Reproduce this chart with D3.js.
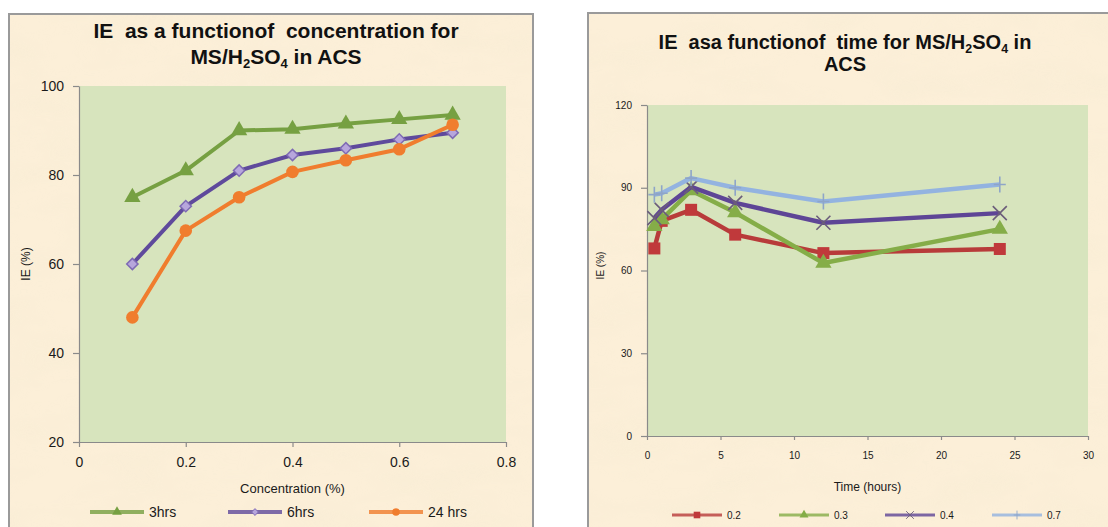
<!DOCTYPE html>
<html>
<head>
<meta charset="utf-8">
<script src="https://cdn.jsdelivr.net/npm/d3@7/dist/d3.min.js"></script>
<style>
  html, body { margin: 0; padding: 0; background: #ffffff; }
  svg { display: block; }
  text { font-family: "Liberation Sans", Arial, sans-serif; }
</style>
</head>
<body>
<svg id="chart" width="1108" height="527"></svg>
<script>
// ---- Concentration panel data ----
const concentrations = [0.1, 0.2, 0.3, 0.4, 0.5, 0.6, 0.7];
const ie3hrs  = [75, 81, 90, 90.3, 91.5, 92.5, 93.5];
const ie6hrs  = [60, 73, 81, 84.5, 86, 88, 89.5];
const ie24hrs = [48, 67.5, 75, 80.7, 83.3, 85.8, 91.3];
const concTicks = [0, 0.2, 0.4, 0.6, 0.8];
const concIETicks = [20, 40, 60, 80, 100];
const concSeriesNames = ["3hrs", "6hrs", "24 hrs"];

// ---- Time panel data ----
const times = [0.5, 1, 3, 6, 12, 24];
const ie02 = [68, 78, 82, 73, 66.3, 67.8];
const ie03 = [76, 78.5, 89, 81, 62.7, 75];
const ie04 = [79, 82, 90.3, 84.5, 77.3, 80.8];
const ie07 = [87.5, 88, 93.5, 90, 85, 91.2];
const timeTicks = [0, 5, 10, 15, 20, 25, 30];
const timeIETicks = [0, 30, 60, 90, 120];
const timeSeriesNames = ["0.2", "0.3", "0.4", "0.7"];

const svg = d3.select("#chart");
const defs = svg.append("defs");

// paper-like mottled panel background
const f = defs.append("filter").attr("id", "paper")
  .attr("x", 0).attr("y", 0).attr("width", "100%").attr("height", "100%");
f.append("feTurbulence").attr("type", "fractalNoise")
  .attr("baseFrequency", "0.012 0.03").attr("numOctaves", 3).attr("seed", 7);
f.append("feColorMatrix").attr("type", "matrix")
  .attr("values", "0 0 0 0 0.93  0 0 0 0 0.84  0 0 0 0 0.66  0 0 0 1.4 -0.5");

function panel(x, y, w, h) {
  const g = svg.append("g");
  g.append("rect").attr("x", x).attr("y", y).attr("width", w).attr("height", h)
    .attr("fill", "#fcefd8");
  g.append("rect").attr("x", x).attr("y", y).attr("width", w).attr("height", h)
    .attr("filter", "url(#paper)").attr("opacity", 0.7);
  g.append("rect").attr("x", x).attr("y", y).attr("width", w).attr("height", h)
    .attr("fill", "none").attr("stroke", "#9a9a9a").attr("stroke-width", 2);
  return g;
}

function title(g, cx, lines, size) {
  lines.forEach(parts => {
    const t = g.append("text").attr("x", cx).attr("y", parts.y)
      .attr("text-anchor", "middle").attr("font-weight", "bold")
      .attr("font-size", size).attr("fill", "#111")
      .attr("xml:space", "preserve").style("white-space", "pre");
    parts.segs.forEach(s => {
      if (s.sub) {
        t.append("tspan").text(s.t).attr("font-size", size * 0.62).attr("dy", 4);
      } else {
        t.append("tspan").text(s.t).attr("dy", s.after ? -4 : 0);
      }
    });
  });
}

function marker(g, type, x, y, c) {
  const fill = c.fill, stroke = c.mstroke || c.fill;
  if (type === "triangle") {
    g.append("path").attr("d", d3.symbol(d3.symbolTriangle, 115)())
      .attr("transform", `translate(${x},${y})`).attr("fill", fill);
  } else if (type === "diamond") {
    g.append("path").attr("d", d3.symbol(d3.symbolSquare, 64)())
      .attr("transform", `translate(${x},${y}) rotate(45)`)
      .attr("fill", fill).attr("stroke", stroke).attr("stroke-width", 1.5);
  } else if (type === "circle") {
    g.append("circle").attr("cx", x).attr("cy", y).attr("r", 6.3).attr("fill", fill);
  } else if (type === "square") {
    g.append("rect").attr("x", x - 6).attr("y", y - 6).attr("width", 12).attr("height", 12)
      .attr("fill", fill);
  } else if (type === "x") {
    g.append("path").attr("d", `M${x-7},${y-7}L${x+7},${y+7}M${x-7},${y+7}L${x+7},${y-7}`)
      .attr("stroke", stroke).attr("stroke-width", 1.6);
  } else if (type === "plus") {
    g.append("path").attr("d", `M${x},${y-8}L${x},${y+8}M${x-6},${y}L${x+6},${y}`)
      .attr("stroke", stroke).attr("stroke-width", 1.6);
  }
}

function styleAxis(a, size) {
  a.select(".domain").attr("stroke", "#8a8a8a").attr("stroke-width", 1.2);
  a.selectAll(".tick line").attr("stroke", "#8a8a8a").attr("stroke-width", 1.2);
  a.selectAll(".tick text").attr("fill", "#1a1a1a").attr("font-size", size)
    .attr("font-family", "'Liberation Sans', Arial, sans-serif");
}

// ================= Concentration panel =================
{
  const g = panel(9, 14, 524, 530);
  const x = d3.scaleLinear([0, 0.8], [79, 506]);
  const y = d3.scaleLinear([20, 100], [442, 86]);

  g.append("rect").attr("x", x(0)).attr("y", y(100))
    .attr("width", x(0.8) - x(0)).attr("height", y(20) - y(100)).attr("fill", "#d7e4bd");

  title(g, 276, [
    { y: 38, segs: [{ t: "IE  as a functionof  concentration for" }] },
    { y: 64, segs: [{ t: "MS/H" }, { t: "2", sub: true }, { t: "SO", after: true }, { t: "4", sub: true }, { t: " in ACS", after: true }] }
  ], 21);

  const ax = g.append("g").attr("transform", `translate(0,${y(20)})`)
    .call(d3.axisBottom(x).tickValues(concTicks).tickFormat(d3.format("~g"))
      .tickSizeInner(5).tickSizeOuter(0).tickPadding(10));
  styleAxis(ax, 14);
  const ay = g.append("g").attr("transform", `translate(${x(0)},0)`)
    .call(d3.axisLeft(y).tickValues(concIETicks).tickSizeInner(6).tickSizeOuter(0).tickPadding(9));
  styleAxis(ay, 14);

  g.append("text").attr("x", x(0.4)).attr("y", 493).attr("text-anchor", "middle")
    .attr("font-size", 13).attr("fill", "#1a1a1a").text("Concentration (%)");
  g.append("text").attr("transform", `translate(30,${y(60)}) rotate(-90)`)
    .attr("text-anchor", "middle").attr("font-size", 12).attr("fill", "#1a1a1a").text("IE (%)");

  const series = [
    { name: concSeriesNames[0], v: ie3hrs, line: "#76a042", fill: "#76a042", m: "triangle" },
    { name: concSeriesNames[1], v: ie6hrs, line: "#5f4a9c", fill: "#b7a6dc", mstroke: "#7e6ab4", m: "diamond" },
    { name: concSeriesNames[2], v: ie24hrs, line: "#f07d2e", fill: "#f07d2e", m: "circle" }
  ];
  const line = d3.line().x(d => x(d[0])).y(d => y(d[1]));
  series.forEach(s => {
    const pts = concentrations.map((c, i) => [c, s.v[i]]);
    g.append("path").attr("d", line(pts)).attr("fill", "none")
      .attr("stroke", s.line).attr("stroke-width", 4).attr("stroke-linejoin", "round");
    pts.forEach(p => marker(g, s.m, x(p[0]), y(p[1]), s));
  });

  // legend
  const lx = [90, 228, 369];
  series.forEach((s, i) => {
    g.append("line").attr("x1", lx[i]).attr("x2", lx[i] + 54).attr("y1", 512).attr("y2", 512)
      .attr("stroke", s.line).attr("stroke-width", 4).attr("opacity", 0.8);
    const lm = g.append("g").attr("transform", `translate(${lx[i] + 27},512) scale(0.6)`);
    marker(lm, s.m, 0, 0, s);
    g.append("text").attr("x", lx[i] + 59).attr("y", 517).attr("font-size", 14)
      .attr("fill", "#1a1a1a").text(s.name);
  });
}

// ================= Time panel =================
{
  const g = panel(588, 13, 540, 530);
  const x = d3.scaleLinear([0, 30], [647, 1088]);
  const y = d3.scaleLinear([0, 120], [436, 105]);

  g.append("rect").attr("x", x(0)).attr("y", y(120))
    .attr("width", x(30) - x(0)).attr("height", y(0) - y(120)).attr("fill", "#d7e4bd");

  title(g, 845, [
    { y: 49, segs: [{ t: "IE  asa functionof  time for MS/H" }, { t: "2", sub: true }, { t: "SO", after: true }, { t: "4", sub: true }, { t: " in", after: true }] },
    { y: 71, segs: [{ t: "ACS" }] }
  ], 20);

  const ax = g.append("g").attr("transform", `translate(0,${y(0)})`)
    .call(d3.axisBottom(x).tickValues(timeTicks).tickSizeInner(4).tickSizeOuter(0).tickPadding(12));
  styleAxis(ax, 10);
  const ay = g.append("g").attr("transform", `translate(${x(0)},0)`)
    .call(d3.axisLeft(y).tickValues(timeIETicks).tickSizeInner(6).tickSizeOuter(0).tickPadding(9));
  styleAxis(ay, 10);

  g.append("text").attr("x", x(15)).attr("y", 491).attr("text-anchor", "middle")
    .attr("font-size", 12).attr("fill", "#1a1a1a").text("Time (hours)");
  g.append("text").attr("transform", `translate(604,${y(60) - 5}) rotate(-90)`)
    .attr("text-anchor", "middle").attr("font-size", 10).attr("fill", "#1a1a1a").text("IE (%)");

  const series = [
    { name: timeSeriesNames[0], v: ie02, line: "#b83b3a", fill: "#c0393b", m: "square" },
    { name: timeSeriesNames[1], v: ie03, line: "#85ad48", fill: "#85ad48", m: "triangle" },
    { name: timeSeriesNames[2], v: ie04, line: "#5e4596", fill: "#5e4596", mstroke: "#6b5d7a", m: "x" },
    { name: timeSeriesNames[3], v: ie07, line: "#93b3e0", fill: "#93b3e0", mstroke: "#8ea5c8", m: "plus" }
  ];
  const line = d3.line().x(d => x(d[0])).y(d => y(d[1]));
  series.forEach(s => {
    const pts = times.map((t, i) => [t, s.v[i]]);
    g.append("path").attr("d", line(pts)).attr("fill", "none")
      .attr("stroke", s.line).attr("stroke-width", 4.5).attr("stroke-linejoin", "round");
    pts.forEach(p => marker(g, s.m, x(p[0]), y(p[1]), s));
  });

  const lx = [672, 779, 885, 992];
  series.forEach((s, i) => {
    g.append("line").attr("x1", lx[i]).attr("x2", lx[i] + 50).attr("y1", 515).attr("y2", 515)
      .attr("stroke", s.line).attr("stroke-width", 3).attr("opacity", 0.8);
    const lm = g.append("g").attr("transform", `translate(${lx[i] + 25},515) scale(0.55)`);
    marker(lm, s.m, 0, 0, s);
    g.append("text").attr("x", lx[i] + 55).attr("y", 519).attr("font-size", 10)
      .attr("fill", "#1a1a1a").text(s.name);
  });
}
</script>
</body>
</html>
